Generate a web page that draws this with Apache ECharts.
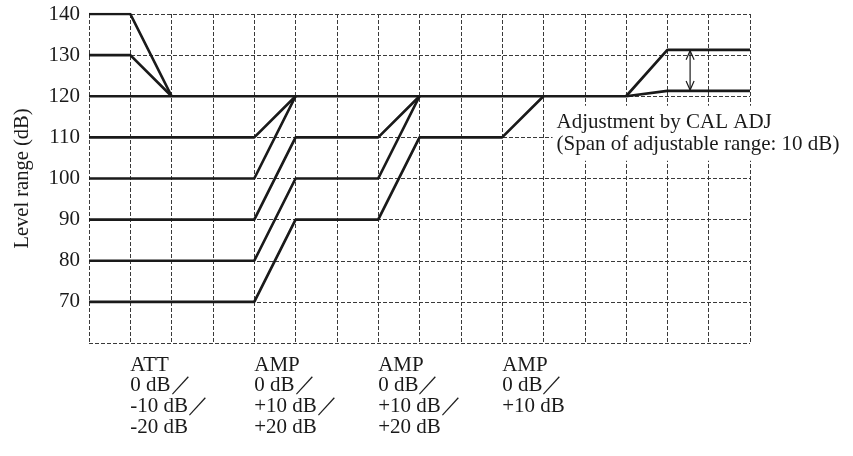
<!DOCTYPE html>
<html>
<head>
<meta charset="utf-8">
<title>Level range</title>
<script src="https://cdn.jsdelivr.net/npm/echarts@6/dist/echarts.min.js"></script>
<style>
  html, body { margin: 0; padding: 0; background: #fff; }
  #main { width: 853px; height: 456px; }
</style>
</head>
<body>
<div id="main"></div>
<script>
// level range paths, x = grid column (0..16), y = dB
var att140 = [[0, 140], [1, 140], [2, 120]];
var att130 = [[0, 130], [1, 130], [2, 120]];
var base120 = [[0, 120], [13, 120]];
var calHigh = [[13, 120], [14, 131.3], [16, 131.3]];
var calLow = [[13, 120], [14, 121.3], [16, 121.3]];
var amp110 = [[0, 110], [4, 110], [5, 120]];
var amp100 = [[0, 100], [4, 100], [5, 120]];
var amp90 = [[0, 90], [4, 90], [5, 110], [7, 110], [8, 120]];
var amp80 = [[0, 80], [4, 80], [5, 100], [7, 100], [8, 120]];
var amp70 = [[0, 70], [4, 70], [5, 90], [7, 90], [8, 110], [10, 110], [11, 120]];
var paths = [att140, att130, base120, calHigh, calLow, amp110, amp100, amp90, amp80, amp70];

// double arrow of the CAL ADJ span
var spanArrow = [[14.55, 131.3, 121.3]];

// labels under the grid
var labelCols = [1, 4, 7, 10];
var labelTexts = [
  'ATT\n0 dB／\n-10 dB／\n-20 dB',
  'AMP\n0 dB／\n+10 dB／\n+20 dB',
  'AMP\n0 dB／\n+10 dB／\n+20 dB',
  'AMP\n0 dB／\n+10 dB'
];
var noteText = 'Adjustment by CAL ADJ\n(Span of adjustable range: 10 dB)';
var notePos = [11.22, 111];

var yTicks = [70, 80, 90, 100, 110, 120, 130, 140];

var serif = '"Liberation Serif", "Times New Roman", serif';
var gridColor = '#3a3a3a';
var ink = '#1a1a1a';

var myChart = echarts.init(document.getElementById('main'));

var series = paths.map(function (p) {
  return {
    type: 'line',
    data: p,
    symbol: 'none',
    lineStyle: { color: ink, width: 2.7 },
    z: 3,
    silent: true
  };
});

series.push({
  type: 'custom',
  data: spanArrow,
  z: 4,
  silent: true,
  renderItem: function (params, api) {
    var a = api.coord([api.value(0), api.value(1)]);
    var b = api.coord([api.value(0), api.value(2)]);
    var st = { stroke: ink, lineWidth: 1.2, fill: null };
    return {
      type: 'group',
      children: [
        { type: 'line', shape: { x1: a[0], y1: a[1] + 1, x2: b[0], y2: b[1] - 1 }, style: st },
        { type: 'polyline', shape: { points: [[a[0] - 4, a[1] + 10], [a[0], a[1] + 1], [a[0] + 4, a[1] + 10]] }, style: st },
        { type: 'polyline', shape: { points: [[b[0] - 4, b[1] - 10], [b[0], b[1] - 1], [b[0] + 4, b[1] - 10]] }, style: st }
      ]
    };
  }
});

var option = {
  animation: false,
  backgroundColor: '#fff',
  grid: { left: 89, right: 103, top: 14, bottom: 113, outerBoundsMode: 'none', containLabel: false },
  xAxis: {
    type: 'value',
    min: 0,
    max: 16,
    interval: 1,
    axisLine: { show: false },
    axisTick: { show: false },
    splitLine: { show: true, lineStyle: { color: gridColor, type: [4, 2], width: 1 } },
    axisLabel: {
      margin: 12,
      align: 'left',
      verticalAlign: 'top',
      fontFamily: serif,
      fontSize: 21,
      lineHeight: 20.6,
      color: ink,
      formatter: function (v) {
        var i = labelCols.indexOf(v);
        return i < 0 ? '' : labelTexts[i];
      }
    }
  },
  yAxis: {
    type: 'value',
    min: 60,
    max: 140,
    interval: 10,
    name: 'Level range (dB)',
    nameLocation: 'middle',
    nameGap: 56,
    nameTextStyle: { fontFamily: serif, fontSize: 20.5, color: ink },
    axisLine: { show: false },
    axisTick: { show: false },
    splitLine: { show: true, lineStyle: { color: gridColor, type: [4, 2], width: 1 } },
    axisLabel: {
      margin: 9,
      fontFamily: serif,
      fontSize: 21,
      color: ink,
      formatter: function (v) {
        return yTicks.indexOf(v) < 0 ? '' : String(v);
      }
    }
  },
  series: series
};

myChart.setOption(option);

// note box placed at a data position, white background hides the grid behind it
var np = myChart.convertToPixel({ gridIndex: 0 }, notePos);
myChart.setOption({
  graphic: [{
    type: 'text',
    x: np[0],
    y: np[1],
    z: 10,
    silent: true,
    style: {
      text: noteText,
      font: '21px ' + serif,
      lineHeight: 21.5,
      fill: ink,
      align: 'left',
      verticalAlign: 'middle',
      backgroundColor: '#fff',
      padding: [6, 4, 6, 4]
    }
  }]
});
</script>
</body>
</html>
